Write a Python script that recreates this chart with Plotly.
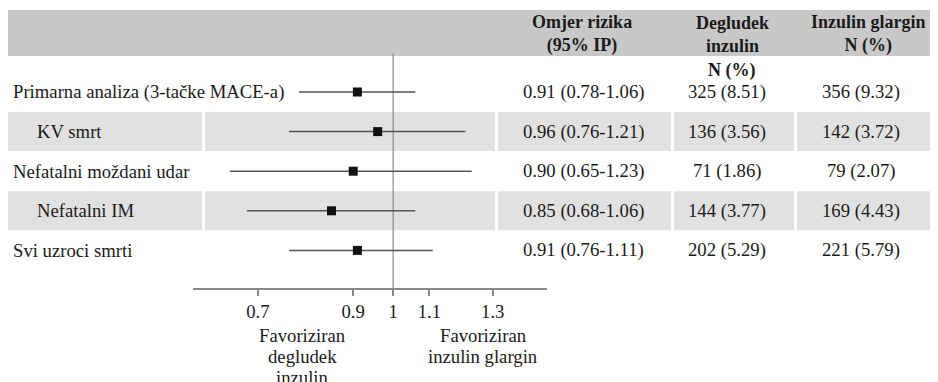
import math
import plotly.graph_objects as go

# ---- data ----
labels = ["Primarna analiza (3-tačke MACE-a)", "KV smrt", "Nefatalni moždani udar",
          "Nefatalni IM", "Svi uzroci smrti"]
indented = [False, True, False, True, False]
hr = [0.91, 0.96, 0.90, 0.85, 0.91]
ci_lo = [0.78, 0.76, 0.65, 0.68, 0.76]
ci_hi = [1.06, 1.21, 1.23, 1.06, 1.11]
deg_n = [325, 136, 71, 144, 202]
deg_pct = [8.51, 3.56, 1.86, 3.77, 5.29]
gla_n = [356, 142, 79, 169, 221]
gla_pct = [9.32, 3.72, 2.07, 4.43, 5.79]
tick_vals = [0.7, 0.9, 1, 1.1, 1.3]
tick_text = ["0.7", "0.9", "1", "1.1", "1.3"]

# ---- layout constants (page pixels; page has 8px body margin) ----
OFF = 8
W, H = 938 - OFF, 382 - OFF
FONT = "Liberation Serif, Times New Roman, serif"
TXT = "#1a1a1a"
FS = 18.7
HFS = 18
row_y0, row_dy = 92, 39.6
row_y = [row_y0 + i * row_dy for i in range(len(labels))]
axis_y = 289

def px(x):
    return (x - OFF) / W

fig = go.Figure()

shapes = []
shapes.append(dict(type="rect", xref="paper", yref="y", x0=px(8), x1=1, y0=10, y1=56,
                   fillcolor="#c8c8c8", line_width=0, layer="below"))
segs = [(8, 202), (205, 495), (498, 671), (674, 794), (797, 938)]
for i, y in enumerate(row_y):
    if i % 2 == 1:
        for a, b in segs:
            shapes.append(dict(type="rect", xref="paper", yref="y", x0=px(a), x1=px(b),
                               y0=y - 19.5, y1=y + 19.5, fillcolor="#e1e1e1",
                               line_width=0, layer="below"))
shapes.append(dict(type="line", xref="x", yref="y", x0=1, x1=1, y0=53, y1=axis_y,
                   line=dict(color="#8a8a8a", width=1.2), layer="below"))

fig.add_trace(go.Scatter(
    x=hr, y=row_y, mode="markers",
    marker=dict(symbol="square", size=9, color="#111111"),
    error_x=dict(type="data", symmetric=False,
                 array=[h - m for h, m in zip(ci_hi, hr)],
                 arrayminus=[m - l for m, l in zip(hr, ci_lo)],
                 thickness=1.5, width=0, color="#555555"),
    showlegend=False, hoverinfo="skip"))

ann = []
def txt(x, y, s, bold=False, anchor="center", size=FS):
    ann.append(dict(xref="paper", yref="y", x=px(x), y=y, text=(f"<b>{s}</b>" if bold else s),
                    showarrow=False, xanchor=anchor, yanchor="middle", borderpad=0,
                    font=dict(family=FONT, size=size, color=TXT)))

# header
txt(582, 34, "<b>Omjer rizika</b><br><b>(95% IP)</b>", size=HFS)
txt(732, 34, "<b>Degludek</b><br><b>inzulin</b>", size=HFS)
txt(732, 70, "N (%)", True, size=HFS)
txt(868, 34, "<b>Inzulin glargin</b><br><b>N (%)</b>", size=HFS)

for i, y in enumerate(row_y):
    txt(36 if indented[i] else 12, y, labels[i], anchor="left")
    txt(583, y, f"{hr[i]:.2f} ({ci_lo[i]:.2f}-{ci_hi[i]:.2f})")
    txt(727, y, f"{deg_n[i]} ({deg_pct[i]:.2f})")
    txt(861, y, f"{gla_n[i]} ({gla_pct[i]:.2f})")

txt(302, 335, "Favoriziran")
txt(302, 356, "degludek")
txt(302, 377, "inzulin")
txt(483, 335, "Favoriziran")
txt(483, 356, "inzulin glargin")

fig.update_layout(
    width=W, height=H, margin=dict(l=0, r=0, t=0, b=0),
    paper_bgcolor="white", plot_bgcolor="white",
    shapes=shapes, annotations=ann,
    xaxis=dict(type="log", domain=[px(193), px(547)],
               range=[math.log10(0.59), math.log10(1.5)],
               anchor="free", position=(H - (axis_y - OFF)) / H,
               showline=True, linecolor="#8a8a8a", linewidth=1.5,
               ticks="outside", ticklen=6, tickcolor="#8a8a8a", tickwidth=1.5,
               tickvals=tick_vals, ticktext=tick_text, showgrid=False, zeroline=False,
               tickfont=dict(family=FONT, size=FS, color=TXT)),
    yaxis=dict(range=[OFF + H, OFF], domain=[0, 1], visible=False, showgrid=False),
)

fig.write_html("out.html")
